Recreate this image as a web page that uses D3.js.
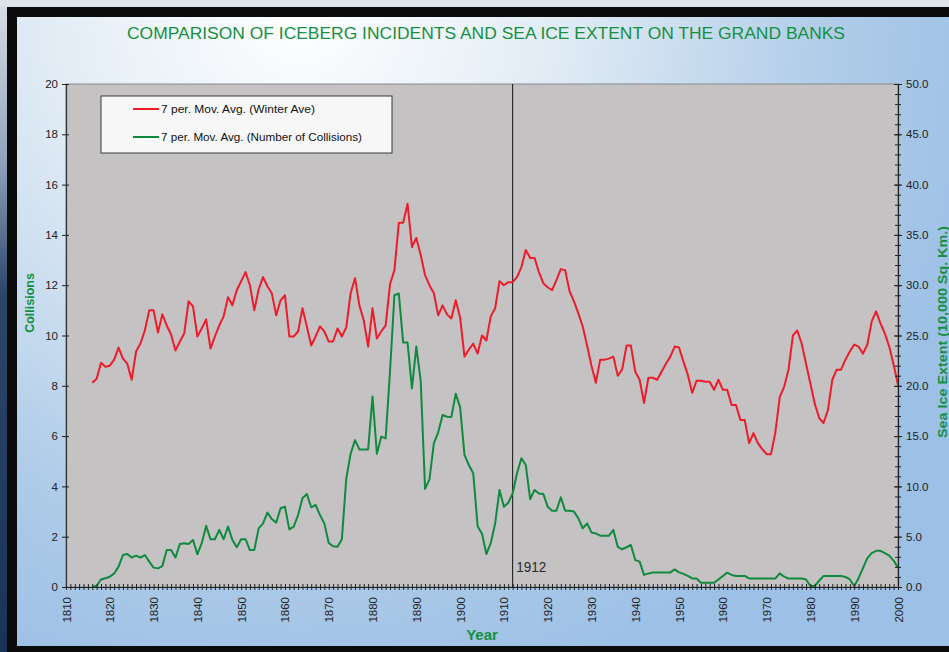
<!DOCTYPE html>
<html>
<head>
<meta charset="utf-8">
<script src="https://cdn.jsdelivr.net/npm/d3@7"></script>
<style>
  html, body { margin: 0; padding: 0; background: #0d1f3a; }
  svg { display: block; }
</style>
</head>
<body>
<svg id="chart" width="949" height="652"></svg>
<script>
// First year of both 7-year moving averages
const startYear = 1816;

// 7 per. Mov. Avg. of winter sea ice extent (10,000 sq. km), 1816-2000
const seaIceExtent = [
  20.3, 20.7, 22.3, 21.9, 22.0, 22.6, 23.8, 22.7, 22.2, 20.6,
  23.4, 24.2, 25.5, 27.5, 27.5, 25.3, 27.1, 26.0, 25.1, 23.5,
  24.4, 25.2, 28.4, 27.9, 24.9, 25.7, 26.6, 23.7, 24.9, 26.0,
  26.9, 28.8, 28.0, 29.5, 30.4, 31.3, 30.0, 27.5, 29.6, 30.8,
  29.9, 29.2, 27.0, 28.5, 29.0, 24.9, 24.9, 25.4, 27.7, 25.9,
  24.0, 24.9, 25.9, 25.4, 24.4, 24.4, 25.7, 24.9, 25.8, 29.2,
  30.7, 28.0, 26.5, 23.9, 27.7, 24.7, 25.4, 26.0, 30.1, 31.5,
  36.2, 36.2, 38.1, 33.8, 34.7, 33.0, 31.0, 30.0, 29.2, 27.0,
  28.0, 27.1, 26.7, 28.5, 26.8, 22.9, 23.6, 24.2, 23.2, 25.0,
  24.5, 26.9, 27.7, 30.4, 30.0, 30.3, 30.3, 30.8, 31.8, 33.5,
  32.7, 32.7, 31.3, 30.2, 29.8, 29.5, 30.5, 31.6, 31.5, 29.4,
  28.4, 27.2, 25.9, 24.0, 22.0, 20.3, 22.6, 22.6, 22.7, 22.9,
  21.0, 21.6, 24.0, 24.0, 21.4, 20.6, 18.3, 20.8, 20.8, 20.6,
  21.4, 22.2, 22.9, 23.9, 23.8, 22.4, 21.1, 19.3, 20.5, 20.5,
  20.4, 20.4, 19.6, 20.6, 19.6, 19.6, 18.1, 18.1, 16.6, 16.6,
  14.3, 15.3, 14.3, 13.7, 13.2, 13.2, 15.4, 18.9, 19.9, 21.6,
  25.0, 25.5, 24.2, 22.2, 20.2, 18.2, 16.8, 16.3, 17.6, 20.6,
  21.6, 21.6, 22.6, 23.4, 24.1, 23.9, 23.2, 24.1, 26.4, 27.4,
  26.2, 25.2, 23.9, 22.1, 20.1
];

// 7 per. Mov. Avg. of iceberg collisions, 1816-2000
const collisions = [
  0.00, 0.05, 0.30, 0.35, 0.41, 0.54, 0.81, 1.27, 1.31, 1.17,
  1.25, 1.17, 1.27, 1.01, 0.77, 0.74, 0.83, 1.47, 1.47, 1.17,
  1.71, 1.74, 1.71, 1.87, 1.30, 1.74, 2.43, 1.90, 1.90, 2.27,
  1.90, 2.40, 1.87, 1.58, 1.90, 1.90, 1.47, 1.47, 2.33, 2.53,
  2.96, 2.70, 2.56, 3.13, 3.19, 2.29, 2.40, 2.86, 3.53, 3.70,
  3.17, 3.26, 2.86, 2.53, 1.75, 1.62, 1.60, 1.90, 4.30, 5.30,
  5.84, 5.47, 5.47, 5.47, 7.57, 5.30, 5.98, 5.91, 8.60, 11.60,
  11.67, 9.72, 9.72, 7.90, 9.56, 8.20, 3.90, 4.28, 5.71, 6.15,
  6.84, 6.77, 6.76, 7.68, 7.15, 5.25, 4.85, 4.52, 2.42, 2.12,
  1.31, 1.74, 2.53, 3.86, 3.19, 3.35, 3.72, 4.52, 5.12, 4.85,
  3.49, 3.86, 3.72, 3.70, 3.19, 3.03, 3.03, 3.57, 3.03, 3.03,
  3.00, 2.73, 2.33, 2.53, 2.17, 2.13, 2.04, 2.04, 2.04, 2.27,
  1.60, 1.50, 1.58, 1.67, 1.07, 1.01, 0.48, 0.54, 0.58, 0.58,
  0.58, 0.58, 0.58, 0.70, 0.58, 0.52, 0.44, 0.34, 0.34, 0.17,
  0.17, 0.17, 0.17, 0.30, 0.44, 0.57, 0.48, 0.44, 0.44, 0.44,
  0.34, 0.34, 0.34, 0.34, 0.34, 0.34, 0.34, 0.54, 0.41, 0.34,
  0.34, 0.34, 0.34, 0.30, 0.04, 0.04, 0.25, 0.44, 0.44, 0.44,
  0.44, 0.44, 0.40, 0.30, 0.04, 0.35, 0.75, 1.15, 1.35, 1.44,
  1.44, 1.35, 1.25, 1.05, 0.77
];

const yearTickLabels = [1810, 1820, 1830, 1840, 1850, 1860, 1870, 1880, 1890, 1900,
                        1910, 1920, 1930, 1940, 1950, 1960, 1970, 1980, 1990, 2000];
const collisionTicks = [0, 2, 4, 6, 8, 10, 12, 14, 16, 18, 20];
const extentTicks = [0, 5, 10, 15, 20, 25, 30, 35, 40, 45, 50];
const markerYear = 1912;

const seriesNames = ["7 per. Mov. Avg. (Winter Ave)", "7 per. Mov. Avg. (Number of Collisions)"];
const titleText = "COMPARISON OF ICEBERG INCIDENTS AND SEA ICE EXTENT ON THE GRAND BANKS";

const RED = "#ee1c2a";
const GREEN = "#0f8a3e";
const LABEL_GREEN = "#149040";
const narrow = "'Liberation Sans Narrow', 'Arial Narrow', 'Liberation Sans', Arial, sans-serif";
const sans = "'Liberation Sans', Arial, Helvetica, sans-serif";

const svg = d3.select("#chart");
const W = 949, H = 652;
const plot = { left: 66, right: 898, top: 84, bottom: 587 };

const defs = svg.append("defs");
const panelGrad = defs.append("radialGradient")
  .attr("id", "panelGrad").attr("gradientUnits", "userSpaceOnUse")
  .attr("cx", 300).attr("cy", 10).attr("r", 720);
panelGrad.append("stop").attr("offset", "0").attr("stop-color", "#ffffff");
panelGrad.append("stop").attr("offset", "0.35").attr("stop-color", "#e2ecf5");
panelGrad.append("stop").attr("offset", "0.75").attr("stop-color", "#aecbe8");
panelGrad.append("stop").attr("offset", "1").attr("stop-color", "#9cc0e6");

const edgeGrad = defs.append("linearGradient")
  .attr("id", "edgeGrad").attr("x1", 0).attr("y1", 0).attr("x2", 0).attr("y2", 1);
edgeGrad.append("stop").attr("offset", "0").attr("stop-color", "#d9dfe6");
edgeGrad.append("stop").attr("offset", "0.25").attr("stop-color", "#8ea2ba");
edgeGrad.append("stop").attr("offset", "0.45").attr("stop-color", "#2c4668");
edgeGrad.append("stop").attr("offset", "1").attr("stop-color", "#1b3356");

// Surroundings, frame and panel
svg.append("rect").attr("width", W).attr("height", H).attr("fill", "url(#edgeGrad)");
svg.append("rect").attr("x", 0).attr("y", 0).attr("width", W).attr("height", 7).attr("fill", "#dfe4ea");
svg.append("rect").attr("x", 7).attr("y", 7).attr("width", W - 7).attr("height", H - 7).attr("fill", "#0b0b0b");
svg.append("rect").attr("x", 17).attr("y", 17).attr("width", W - 17).attr("height", 629)
  .attr("fill", "url(#panelGrad)");

// Scales
const x = d3.scaleLinear().domain([1810, 2000]).range([plot.left, plot.right]);
const yLeft = d3.scaleLinear().domain([0, 20]).range([plot.bottom, plot.top]);
const yRight = d3.scaleLinear().domain([0, 50]).range([plot.bottom, plot.top]);

// Plot area
svg.append("rect")
  .attr("x", plot.left).attr("y", plot.top)
  .attr("width", plot.right - plot.left).attr("height", plot.bottom - plot.top)
  .attr("fill", "#c4c2c3").attr("stroke", "#8a8a8a").attr("stroke-width", 1);

// Title
svg.append("text")
  .attr("x", 486).attr("y", 39)
  .attr("text-anchor", "middle")
  .attr("font-family", narrow).attr("font-size", 16.5)
  .attr("fill", LABEL_GREEN)
  .attr("textLength", 718).attr("lengthAdjust", "spacingAndGlyphs")
  .text(titleText);

// 1912 marker
svg.append("line")
  .attr("x1", x(markerYear)).attr("x2", x(markerYear))
  .attr("y1", plot.top).attr("y2", plot.bottom)
  .attr("stroke", "#111").attr("stroke-width", 1);
svg.append("text")
  .attr("x", x(markerYear) + 3.5).attr("y", 572)
  .attr("font-family", narrow).attr("font-size", 14).attr("fill", "#2a2a2a")
  .attr("textLength", 30).attr("lengthAdjust", "spacingAndGlyphs")
  .text(String(markerYear));

// Series
const extentData = seaIceExtent.map((v, i) => ({ year: startYear + i, value: v }));
const collisionData = collisions.map((v, i) => ({ year: startYear + i, value: v }));

const plotClip = defs.append("clipPath").attr("id", "plotClip");
plotClip.append("rect").attr("x", plot.left).attr("y", plot.top - 2)
  .attr("width", plot.right - plot.left).attr("height", plot.bottom - plot.top + 2);

const gSeries = svg.append("g").attr("clip-path", "url(#plotClip)");
gSeries.append("path").datum(collisionData)
  .attr("fill", "none").attr("stroke", GREEN).attr("stroke-width", 2).attr("stroke-linejoin", "round")
  .attr("d", d3.line().x(d => x(d.year)).y(d => yLeft(d.value)));
gSeries.append("path").datum(extentData)
  .attr("fill", "none").attr("stroke", RED).attr("stroke-width", 2).attr("stroke-linejoin", "round")
  .attr("d", d3.line().x(d => x(d.year)).y(d => yRight(d.value)));

// Bottom axis: a cross tick for every year
const gx = svg.append("g").attr("transform", `translate(0,${plot.bottom})`);
gx.call(d3.axisBottom(x).tickValues(d3.range(1810, 2001)).tickSize(0).tickFormat(""));
gx.select(".domain").attr("stroke", "#222").attr("stroke-width", 1.2);
gx.selectAll(".tick line").remove();
gx.selectAll(".tick").append("line")
  .attr("y1", -3).attr("y2", 3).attr("stroke", "#222").attr("stroke-width", 1);
const gxLabels = svg.append("g").attr("transform", `translate(0,${plot.bottom})`);
gxLabels.call(d3.axisBottom(x).tickValues(yearTickLabels).tickSize(0).tickFormat(d3.format("d")));
gxLabels.select(".domain").remove();
gxLabels.selectAll(".tick text")
  .attr("font-family", sans).attr("font-size", 11.5).attr("fill", "#222")
  .attr("text-anchor", "end")
  .attr("transform", "rotate(-90)")
  .attr("x", -10).attr("y", 0).attr("dy", "0.35em");

// Left axis (collisions)
const gl = svg.append("g").attr("transform", `translate(${plot.left},0)`);
gl.call(d3.axisLeft(yLeft).tickValues(collisionTicks).tickSize(0).tickFormat(d3.format("d")));
gl.select(".domain").attr("stroke", "#333").attr("stroke-width", 1.2);
gl.selectAll(".tick").append("line").attr("x1", -4).attr("x2", 3).attr("stroke", "#222");
gl.selectAll(".tick text")
  .attr("font-family", sans).attr("font-size", 11.5).attr("fill", "#222").attr("x", -8);

// Right axis (sea ice extent)
const gr = svg.append("g").attr("transform", `translate(${plot.right},0)`);
gr.call(d3.axisRight(yRight).tickValues(d3.range(0, 51)).tickSize(0).tickFormat(""));
gr.select(".domain").attr("stroke", "#222").attr("stroke-width", 1.2);
gr.selectAll(".tick").append("line").attr("x1", -3).attr("x2", 3).attr("stroke", "#222");
const grLabels = svg.append("g").attr("transform", `translate(${plot.right},0)`);
grLabels.call(d3.axisRight(yRight).tickValues(extentTicks).tickSize(0).tickFormat(d3.format(".1f")));
grLabels.select(".domain").remove();
grLabels.selectAll(".tick").append("line").attr("x1", -4).attr("x2", 4).attr("stroke", "#222");
grLabels.selectAll(".tick text")
  .attr("font-family", sans).attr("font-size", 11.5).attr("fill", "#222").attr("x", 8);

// Axis titles
svg.append("text")
  .attr("transform", "translate(34,303) rotate(-90)")
  .attr("text-anchor", "middle")
  .attr("font-family", sans).attr("font-weight", "bold").attr("font-size", 12.5)
  .attr("fill", LABEL_GREEN).text("Collisions");
svg.append("text")
  .attr("transform", "translate(947,332) rotate(-90)")
  .attr("text-anchor", "middle")
  .attr("font-family", sans).attr("font-weight", "bold").attr("font-size", 12.5)
  .attr("fill", LABEL_GREEN)
  .attr("textLength", 212).attr("lengthAdjust", "spacingAndGlyphs")
  .text("Sea Ice Extent (10,000 Sq. Km.)");
svg.append("text")
  .attr("x", 482).attr("y", 640)
  .attr("text-anchor", "middle")
  .attr("font-family", narrow).attr("font-weight", "bold").attr("font-size", 15)
  .attr("fill", LABEL_GREEN).text("Year");

// Legend
const legendTextLengths = [154, 201];
const legend = svg.append("g");
legend.append("rect")
  .attr("x", 101).attr("y", 96).attr("width", 291).attr("height", 57)
  .attr("fill", "#f7f7f7").attr("stroke", "#3a3a3a").attr("stroke-width", 1);
[RED, GREEN].forEach((c, i) => {
  const yy = 109 + i * 28;
  legend.append("line").attr("x1", 133).attr("x2", 159).attr("y1", yy).attr("y2", yy)
    .attr("stroke", c).attr("stroke-width", 2);
  legend.append("text").attr("x", 161).attr("y", yy + 4)
    .attr("font-family", sans).attr("font-size", 11.5).attr("fill", "#111")
    .attr("textLength", legendTextLengths[i]).attr("lengthAdjust", "spacingAndGlyphs")
    .text(seriesNames[i]);
});
</script>
</body>
</html>
